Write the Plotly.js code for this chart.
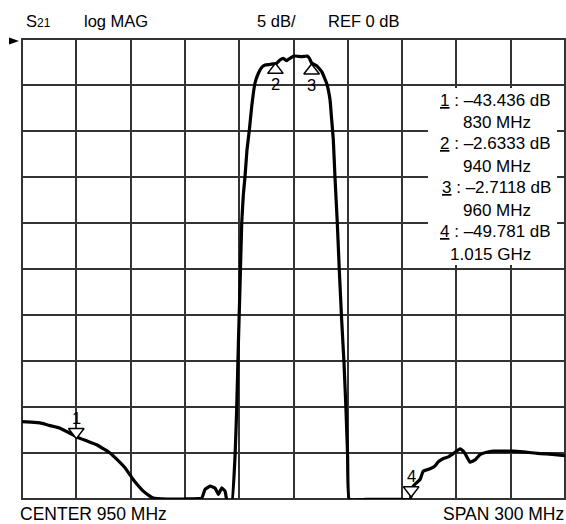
<!DOCTYPE html>
<html>
<head>
<meta charset="utf-8">
<script src="https://cdn.plot.ly/plotly-3.0.1.min.js"></script>
<style>html,body{margin:0;padding:0;background:#fff;}#chart{width:566px;height:524px;}</style>
</head>
<body>
<div id="chart"></div>
<script>
// ---- Data ----
const freqMHz = [800, 805, 810, 815, 821, 826, 830.6, 836, 841.3, 845, 848.6, 853, 856.9, 861.5, 864, 867, 870, 872.5, 880, 890, 899.3,
  901.1, 903.9, 906.6, 908.5, 910.3, 912.2, 913.1, 915.9, 917.7, 918.6, 919.6, 920.4, 921.4, 922.3, 923.2, 924.3, 925.6, 926.9, 928.7,
  930.6, 932.6, 934.3, 937, 938.8, 940.7, 942.5, 944.4, 945.3, 946.2, 947, 948.1, 949.7, 950.8, 952.5, 954.5, 956.1, 957.6, 958.8,
  960, 961.3, 962.8, 965.6, 968.3, 970.2, 971.1, 972, 972.9, 974.2, 975.3, 976.6, 977.9, 979, 979.9, 980.8, 990, 1000, 1010, 1014.4,
  1016.2, 1019.9, 1021.7, 1025.4, 1028, 1030, 1032.8, 1035.5, 1038.3, 1042, 1043.5, 1044.8, 1047.5, 1050.3, 1053, 1056.7, 1060.4,
  1064, 1071.4, 1077, 1086.2, 1093, 1100];
const s21dB = [-41.6, -41.65, -41.73, -42.0, -42.3, -42.8, -43.3, -43.7, -44.1, -44.55, -45.0, -45.8, -46.6, -47.9, -48.5, -49.15, -49.6, -49.9, -50.0, -50.0, -49.9,
  -48.97, -48.6, -48.8, -49.5, -48.8, -49.15, -50.05, -50.35, -45.35, -40.3, -32.7, -27.25, -20.0, -16.9, -15.0, -12.05, -9.9, -7.35, -4.81,
  -3.72, -3.04, -2.82, -2.77, -2.71, -2.64, -2.28, -2.1, -2.23, -2.36, -2.23, -2.1, -1.9, -1.85, -1.88, -1.92, -1.88, -1.85, -2.1,
  -2.6, -2.76, -2.9, -3.55, -4.81, -6.62, -8.8, -10.97, -14.95, -20.0, -25.1, -30.5, -35.2, -40.3, -45.35, -50.05, -50.05, -50.05, -50.05, -50.05,
  -48.6, -47.88, -46.98, -46.72, -46.45, -45.95, -45.6, -45.42, -45.06, -44.55, -44.75, -45.06, -46.0, -45.75, -45.17, -44.92, -44.8,
  -44.8, -44.8, -44.88, -45.06, -45.15, -45.3];

const markerNum = [1, 2, 3, 4];
const markerFreq = [830, 940, 960, 1015];
const markerDb = [-43.436, -2.6333, -2.7118, -49.781];
const markerFreqText = ['830 MHz', '940 MHz', '960 MHz', '1.015 GHz'];
const markerPointsDown = [true, false, false, true];

const paramText = 'S<span style="font-size:12px">21</span>';
const formatText = 'log MAG';
const scaleText = '5 dB/';
const refText = 'REF 0 dB';
const centerText = 'CENTER 950 MHz';
const spanText = 'SPAN 300 MHz';

// ---- Geometry ----
const L = 22, T = 39, W = 543, H = 460;
const px2paperX = px => (px - L) / W;
const px2paperY = py => 1 - (py - T) / H;
const FONT = '"Liberation Sans", Arial, sans-serif';
const yMin = -50, yMax = 0;
const markerSize = 13.5;
const rDb = (markerSize / 2) * (yMax - yMin) / H;

const traces = [
  {
    x: freqMHz, y: s21dB, type: 'scatter', mode: 'lines',
    line: {color: '#000', width: 3.2, shape: 'spline', smoothing: 0.3},
    cliponaxis: false, hoverinfo: 'skip'
  },
  {
    x: markerFreq,
    y: markerDb.map((v, i) => markerPointsDown[i] ? v + rDb : v - rDb),
    type: 'scatter', mode: 'markers', cliponaxis: false, hoverinfo: 'skip',
    marker: {
      symbol: markerPointsDown.map(d => d ? 'triangle-down' : 'triangle-up'),
      size: markerSize, color: '#fff', line: {color: '#000', width: 1.5}
    }
  }
];

const ann = [];
function txt(text, xpx, ypx, anchor, size) {
  ann.push({text: text, xref: 'paper', yref: 'paper', x: px2paperX(xpx), y: px2paperY(ypx),
    xanchor: anchor, yanchor: 'middle', showarrow: false, borderpad: 0, borderwidth: 0,
    font: {family: FONT, size: size, color: '#000'}});
}
txt(paramText, 26, 21, 'left', 16.5);
txt(formatText, 84, 21, 'left', 16.5);
txt(scaleText, 257, 21, 'left', 16.5);
txt(refText, 328, 21, 'left', 16.5);
txt(centerText, 20, 513.5, 'left', 17.5);
txt(spanText, 564, 513.5, 'right', 17.5);

markerNum.forEach((n, i) => {
  const valTxt = '<u>' + n + '</u> : \u2013' + Math.abs(markerDb[i]).toPrecision(5) + ' dB';
  txt(valTxt, 551, 100 + 43.8 * i, 'right', 17);
  txt(markerFreqText[i], 531, 122.5 + 44 * i, 'right', 17);
  ann.push({text: String(n), xref: 'x', yref: 'y', x: markerFreq[i], y: markerDb[i],
    yshift: markerPointsDown[i] ? 21 : -21, xanchor: 'center', yanchor: 'middle', showarrow: false,
    borderpad: 0, borderwidth: 0, font: {family: FONT, size: 16.5, color: '#000'}});
});

const layout = {
  width: 566, height: 524,
  margin: {l: L, r: 566 - L - W, t: T, b: 524 - T - H, pad: 0},
  paper_bgcolor: '#fff', plot_bgcolor: '#fff',
  showlegend: false,
  xaxis: {range: [800, 1100], tick0: 800, dtick: 30, showgrid: true, gridcolor: '#333', gridwidth: 2,
    zeroline: false, showticklabels: false, ticks: '', showline: false, fixedrange: true},
  yaxis: {range: [yMin, yMax], tick0: 0, dtick: 5, showgrid: true, gridcolor: '#333', gridwidth: 2,
    zeroline: false, showticklabels: false, ticks: '', showline: false, fixedrange: true},
  shapes: [
    {type: 'rect', xref: 'paper', yref: 'paper', x0: 0, x1: 1, y0: 0, y1: 1,
      fillcolor: 'rgba(0,0,0,0)', line: {color: '#333', width: 2}, layer: 'below'},
    {type: 'rect', xref: 'paper', yref: 'paper', x0: px2paperX(428), x1: px2paperX(557),
      y0: px2paperY(265), y1: px2paperY(88), fillcolor: '#fff', line: {width: 0}, layer: 'above'},
    {type: 'path', xref: 'paper', yref: 'paper', xsizemode: 'pixel', ysizemode: 'pixel',
      xanchor: 0, yanchor: 1, path: 'M-13,1.5 L-3,-2 L-13,-5.5 Z', fillcolor: '#000', line: {width: 0}}
  ],
  annotations: ann
};

Plotly.newPlot('chart', traces, layout, {staticPlot: true, displayModeBar: false});
</script>
</body>
</html>
